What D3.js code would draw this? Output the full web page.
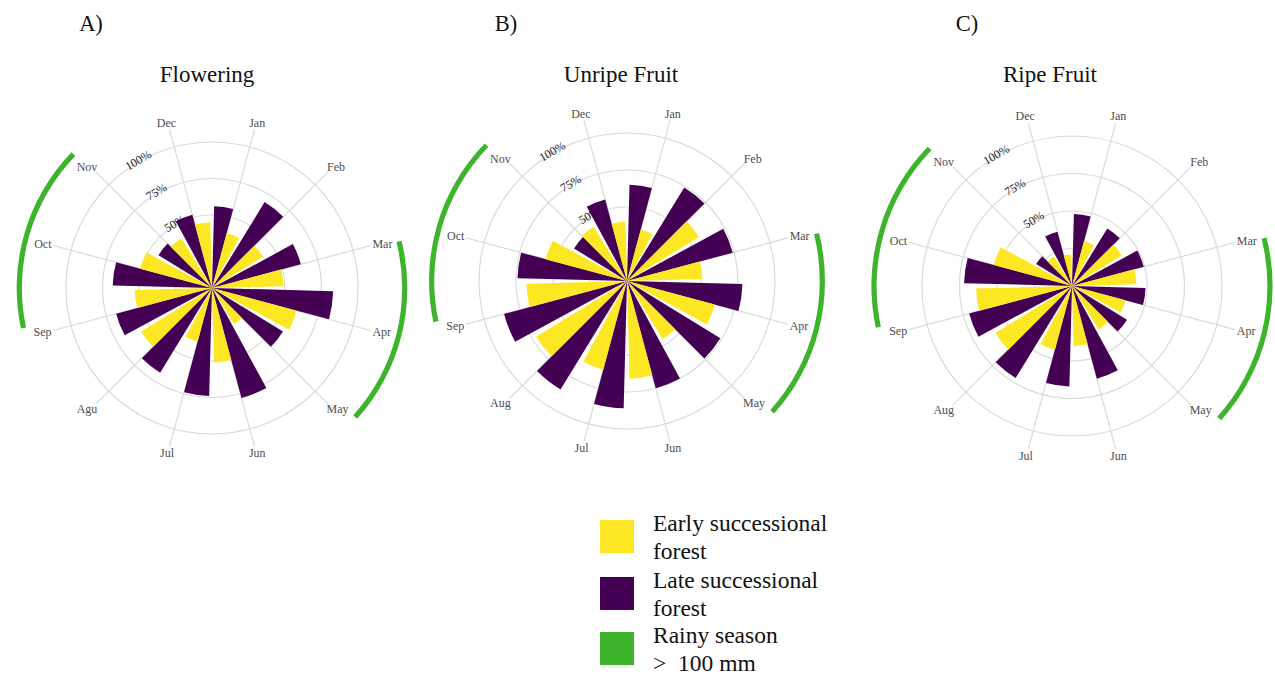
<!DOCTYPE html>
<html>
<head>
<meta charset="utf-8">
<script src="https://cdn.jsdelivr.net/npm/d3@7"></script>
<style>
  html, body { margin: 0; padding: 0; background: #ffffff; }
  svg { display: block; }
</style>
</head>
<body>
<svg id="chart" width="1275" height="679" font-family="'Liberation Serif', 'Times New Roman', serif"></svg>
<script>
// Months on the angular axis
const months = ["Jan", "Feb", "Mar", "Apr", "May", "Jun", "Jul", "Aug", "Sep", "Oct", "Nov", "Dec"];
const monthLabelsA = ["Jan", "Feb", "Mar", "Apr", "May", "Jun", "Jul", "Agu", "Sep", "Oct", "Nov", "Dec"];
const monthLabelsBC = months;

// Percentage of species in each phenophase, per month
const floweringEarly = [39, 41, 49, 60, 29, 51, 38, 57, 53, 51, 40, 45];
const floweringLate  = [56, 69, 63, 83, 57, 78, 74, 68, 68, 68, 43, 52];

const unripeEarly = [36, 57, 51, 61.5, 46, 66, 62, 72, 68, 57, 43, 40];
const unripeLate  = [65, 74, 74, 78, 74, 75, 86, 86, 86, 74, 42, 57];

const ripeEarly = [31, 39, 43, 37, 34, 40, 44, 60, 64, 54, 23, 21];
const ripeLate  = [48, 45, 49.5, 49, 43, 64, 67, 72, 71, 72, 28, 37.5];

// Radial grid breaks and the ones that carry a label
const ringBreaks = [25, 50, 75, 100];
const ringLabels = ["50%", "75%", "100%"];
const ringLabelValues = [50, 75, 100];

// Rainy season (> 100 mm), as angular extents in degrees clockwise from the Dec/Jan boundary
const rainyStart = [76, 258];
const rainyEnd   = [132, 314];

// Series
const seriesKeys = ["late", "early"];
const seriesColors = { early: "#FDE725", late: "#440154" };
const rainColor = "#3DB42B";

const panels = [
  { letter: "A)", title: "Flowering",    early: floweringEarly, late: floweringLate, labels: monthLabelsA,
    cx: 212, cy: 288, R: 146, letterX: 91, titleX: 207 },
  { letter: "B)", title: "Unripe Fruit", early: unripeEarly,    late: unripeLate,    labels: monthLabelsBC,
    cx: 627, cy: 281, R: 148, letterX: 506, titleX: 621 },
  { letter: "C)", title: "Ripe Fruit",   early: ripeEarly,      late: ripeLate,      labels: monthLabelsBC,
    cx: 1072, cy: 286, R: 150, letterX: 967, titleX: 1050 }
];

const svg = d3.select("#chart");
svg.append("rect").attr("width", 1275).attr("height", 679).attr("fill", "#ffffff");

const rad = d => d * Math.PI / 180;

// Month bands around the circle; each month split into two dodged bars (width 0.9)
const x0 = d3.scaleBand().domain(months).range([0, 360]).padding(0);
const x1 = d3.scaleBand().domain(seriesKeys)
  .range([x0.bandwidth() * 0.05, x0.bandwidth() * 0.95]).padding(0);

panels.forEach(p => {
  const g = svg.append("g").attr("transform", `translate(${p.cx},${p.cy})`);
  const r = d3.scaleLinear().domain([0, 100]).range([0, p.R]);
  const mid = m => x0(m) + x0.bandwidth() / 2;

  // panel letter and title
  svg.append("text").attr("x", p.letterX).attr("y", 31)
    .attr("text-anchor", "middle").attr("font-size", 22.5).attr("fill", "#111")
    .text(p.letter);
  svg.append("text").attr("x", p.titleX).attr("y", 82)
    .attr("text-anchor", "middle").attr("font-size", 23).attr("fill", "#111")
    .text(p.title);

  // grid rings
  g.selectAll("circle.ring").data(ringBreaks).join("circle")
    .attr("class", "ring").attr("r", d => r(d))
    .attr("fill", "none").attr("stroke", "#dadada").attr("stroke-width", 1.2);

  // spokes at month centres
  const spokeR = p.R * 1.125;
  g.selectAll("line.spoke").data(months).join("line")
    .attr("class", "spoke")
    .attr("x1", 0).attr("y1", 0)
    .attr("x2", d => spokeR * Math.sin(rad(mid(d))))
    .attr("y2", d => -spokeR * Math.cos(rad(mid(d))))
    .attr("stroke", "#dadada").attr("stroke-width", 1.2);

  // ring labels, set along the rings
  const labAngle = -30;
  g.selectAll("text.pct").data(ringLabelValues).join("text")
    .attr("class", "pct")
    .attr("transform", (d) => {
      const rr = r(d) + 1.5;
      const x = rr * Math.sin(rad(labAngle)), y = -rr * Math.cos(rad(labAngle));
      return `translate(${x},${y}) rotate(${labAngle})`;
    })
    .attr("text-anchor", "middle").attr("dominant-baseline", "central")
    .attr("font-size", 12).attr("fill", "#1a1a1a")
    .text((d, i) => ringLabels[i]);

  // bars
  const arc = d3.arc().innerRadius(0);
  const rows = [];
  months.forEach((m, i) => {
    seriesKeys.forEach(k => {
      rows.push({ month: m, key: k, value: p[k][i] });
    });
  });
  g.selectAll("path.bar").data(rows).join("path")
    .attr("class", "bar")
    .attr("d", d => arc({
      outerRadius: r(d.value),
      startAngle: rad(x0(d.month) + x1(d.key)),
      endAngle: rad(x0(d.month) + x1(d.key) + x1.bandwidth())
    }))
    .attr("fill", d => seriesColors[d.key]);

  // month labels just outside the spokes
  const r0 = p.R * 1.14;
  const h = 9;
  g.selectAll("text.month").data(months).join("text")
    .attr("class", "month")
    .attr("text-anchor", "middle").attr("dominant-baseline", "central")
    .attr("font-size", 12).attr("fill", "#4d4d4d")
    .text((d, i) => p.labels[i])
    .each(function (d) {
      const t = rad(mid(d));
      const w = this.getComputedTextLength();
      const x = r0 * Math.sin(t) + Math.sin(t) * w / 2;
      const y = -r0 * Math.cos(t) - Math.cos(t) * h / 2;
      d3.select(this).attr("x", x).attr("y", y);
    });

  // rainy season arcs
  const rainR = p.R * 1.32;
  const rainArc = d3.arc().innerRadius(rainR - 2.6).outerRadius(rainR + 2.6);
  g.selectAll("path.rain").data(rainyStart.map((s, i) => ({ s, e: rainyEnd[i] }))).join("path")
    .attr("class", "rain")
    .attr("d", d => rainArc({ startAngle: rad(d.s), endAngle: rad(d.e) }))
    .attr("fill", rainColor);
});

// legend
const legendItems = [
  { color: seriesColors.early, lines: ["Early successional", "forest"], y: 520 },
  { color: seriesColors.late,  lines: ["Late successional", "forest"],  y: 577 },
  { color: rainColor,          lines: ["Rainy season", ">  100 mm"],    y: 632 }
];
const lg = svg.append("g");
legendItems.forEach(it => {
  lg.append("rect").attr("x", 600).attr("y", it.y).attr("width", 34).attr("height", 33)
    .attr("fill", it.color);
  it.lines.forEach((ln, j) => {
    lg.append("text").attr("x", 653).attr("y", it.y + 11 + j * 28)
      .attr("font-size", 23.5).attr("fill", "#111")
      .attr("xml:space", "preserve")
      .text(ln);
  });
});
</script>
</body>
</html>
